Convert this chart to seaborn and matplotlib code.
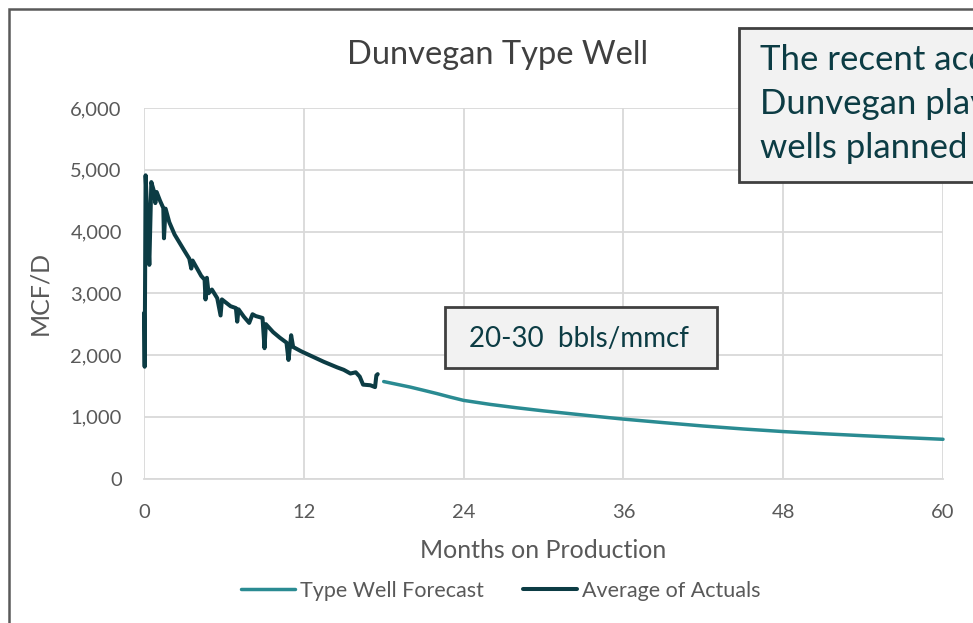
import pandas as pd
import matplotlib.pyplot as plt
import seaborn as sns
from matplotlib.patches import Rectangle
from matplotlib.ticker import FuncFormatter

# --- podaci ocitani sa slike ---
actual_months = [0.0, 0.05, 0.12, 0.22, 0.4, 0.55, 0.75, 0.85, 0.95, 1.2, 1.45, 1.5,
                 1.62, 1.9, 2.3, 3.0, 3.4, 3.55, 3.65, 4.3, 4.55, 4.62, 4.72, 4.85,
                 5.1, 5.5, 5.75, 5.85, 6.5, 6.9, 7.0, 7.1, 7.5, 7.9, 8.15, 8.4,
                 8.9, 9.05, 9.15, 9.7, 10.2, 10.7, 10.85, 11.05, 11.2, 11.8, 12.7,
                 13.5, 14.5, 15.0, 15.5, 15.9, 16.2, 16.45, 17.0, 17.35, 17.45, 17.55]
actual_mcfd = [2680, 1810, 4910, 4400, 3460, 4800, 4650, 4460, 4640, 4500, 4380, 3890,
               4370, 4150, 3950, 3700, 3560, 3400, 3530, 3280, 3220, 2900, 3250, 3000,
               3060, 2920, 2640, 2900, 2790, 2760, 2540, 2740, 2620, 2520, 2660, 2630,
               2600, 2110, 2500, 2370, 2280, 2200, 1920, 2320, 2130, 2060, 1970,
               1890, 1800, 1760, 1700, 1720, 1650, 1520, 1510, 1480, 1670, 1690]

forecast_months = [18, 19, 20, 21, 22, 23, 24, 26, 28, 30, 32, 34, 36, 39, 42, 45,
                   48, 51, 54, 57, 60]
forecast_mcfd = [1570, 1525, 1480, 1428, 1375, 1318, 1265, 1200, 1145, 1095, 1050,
                 1005, 962, 905, 850, 802, 760, 725, 693, 663, 635]

x_ticks = [0, 12, 24, 36, 48, 60]
y_ticks = [0, 1000, 2000, 3000, 4000, 5000, 6000]

TEAL = '#2a8b92'
DARK = '#0c3c44'
GRID = '#d9d9d9'
TXT = '#595959'

sns.set_theme(style="white")
plt.rcParams['font.family'] = ['Lato', 'DejaVu Sans']

W, H = 973, 623
fig = plt.figure(figsize=(W / 100, H / 100), dpi=100)
ax = fig.add_axes([144 / W, 1 - 478.5 / H, (943 - 144) / W, (478.5 - 108) / H])

df_fc = pd.DataFrame({'Months': forecast_months, 'MCFD': forecast_mcfd})
df_act = pd.DataFrame({'Months': actual_months, 'MCFD': actual_mcfd})
sns.lineplot(data=df_fc, x='Months', y='MCFD', color=TEAL, lw=2.5, estimator=None,
             ax=ax, label='Type Well Forecast')
sns.lineplot(data=df_act, x='Months', y='MCFD', color=DARK, lw=2.9, estimator=None,
             ax=ax, label='Average of Actuals')
for ln in ax.lines:
    ln.set_clip_on(False)
    ln.set_solid_joinstyle('round')

ax.set_xlim(0, 60)
ax.set_ylim(0, 6000)
ax.set_xticks(x_ticks)
ax.set_yticks(y_ticks)
ax.yaxis.set_major_formatter(FuncFormatter(lambda v, p: f'{v:,.0f}'))
ax.grid(True, color=GRID, lw=1.3)
ax.set_axisbelow(True)
for s in ['top', 'right', 'left']:
    ax.spines[s].set_visible(False)
ax.spines['bottom'].set_color(GRID)
ax.spines['bottom'].set_linewidth(1.3)
ax.tick_params(axis='both', length=0, labelsize=14.5, colors=TXT)
ax.tick_params(axis='x', pad=18)
ax.tick_params(axis='y', pad=16)
ax.set_xlabel('Months on Production', fontsize=18, color=TXT, labelpad=13)
ax.set_ylabel('MCF/D', fontsize=18, color=TXT, labelpad=14)

handles, labels = ax.get_legend_handles_labels()
ax.get_legend().remove()
leg = fig.legend(handles, labels, loc='center', bbox_to_anchor=(501 / W, 1 - 591 / H),
                 ncol=2, frameon=False, handlelength=2.5, handletextpad=0.25,
                 columnspacing=1.8, fontsize=15.5)
for t in leg.get_texts():
    t.set_color(TXT)

fig.text(498 / W, 1 - 55 / H, 'Dunvegan Type Well', ha='center', va='center',
         fontsize=23.5, color='#404040')

# okvir oko cele slike
fig.add_artist(Rectangle((9 / W, -0.1), 2, 1.1 - 9 / H, transform=fig.transFigure,
                         fill=False, ec='#595959', lw=1.8))

# kutija sa tekstom gore desno
fig.add_artist(Rectangle((739 / W, 1 - 182 / H), 1, (182 - 28) / H,
                         transform=fig.transFigure, fc='#f2f2f2', ec='#404040', lw=2))
for i, line in enumerate(['The recent acquisition', 'Dunvegan play', 'wells planned']):
    fig.text(760 / W, 1 - (60 + 44 * i) / H, line, ha='left', va='center',
             fontsize=25, color=DARK)

# mala kutija
fig.add_artist(Rectangle((445 / W, 1 - 368 / H), (717 - 445) / W, (368 - 307) / H,
                         transform=fig.transFigure, fc='#f2f2f2', ec='#404040', lw=2))
fig.text(579 / W, 1 - 339 / H, '20-30  bbls/mmcf', ha='center', va='center',
         fontsize=20, color=DARK)

fig.savefig('out.png', dpi=100)
